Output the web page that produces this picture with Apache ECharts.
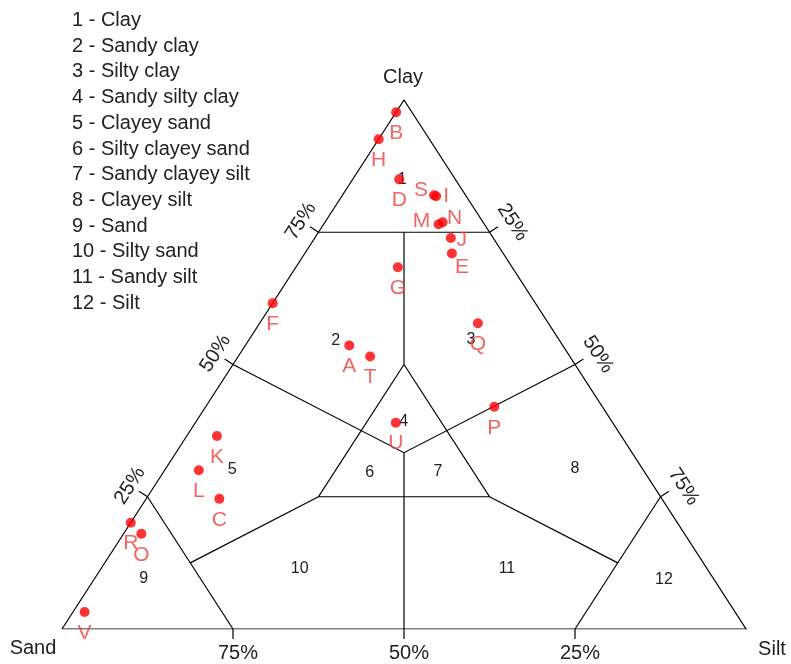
<!DOCTYPE html>
<html><head><meta charset="utf-8">
<script src="https://cdn.jsdelivr.net/npm/echarts@6/dist/echarts.min.js"></script>
<style>html,body{margin:0;padding:0;background:#fff}#c{width:791px;height:664px}</style>
</head><body><div id="c"></div>
<script>
// ---- data ----
const classNames = ['Clay','Sandy clay','Silty clay','Sandy silty clay','Clayey sand','Silty clayey sand',
  'Sandy clayey silt','Clayey silt','Sand','Silty sand','Sandy silt','Silt'];
const vertexNames = ['Sand','Silt','Clay'];
const tickValues = [25,50,75];
const bottomTickLabels = ['75%','50%','25%'];   // silt 25,50,75 along Sand-Silt edge
const leftTickLabels = ['25%','50%','75%'];     // clay 25,50,75 along Sand-Clay edge
const rightTickLabels = ['25%','50%','75%'];    // silt 25,50,75 along Clay-Silt edge
const regionIds = ['1','2','3','4','5','6','7','8','9','10','11','12'];
const regionClay = [84.9,54.6,54.8,39.3,30.2,29.6,29.7,30.4,9.5,11.5,11.5,9.4];
const regionSilt = [7.3,12.7,32.4,30.3,9.8,30.2,40.1,59.8,7.2,29.0,59.3,83.3];
const sampleNames = ['A','B','C','D','E','F','G','H','I','J','K','L','M','N','O','P','Q','R','S','T','U','V'];
const sampleClay = [53.6,97.7,24.6,85.0,71.0,61.6,68.4,92.6,81.8,73.9,36.5,30.0,76.5,76.9,18.0,42.0,57.8,20.1,82.0,51.5,39.0,3.2];
const sampleSilt = [15.2,0.0,10.7,6.8,21.5,0.0,14.9,0.0,13.8,19.9,4.4,5.0,16.8,17.2,2.6,42.2,31.9,0.0,13.4,19.3,29.3,1.7];
const sampleSand = [31.2,2.3,64.7,8.2,7.5,38.4,16.7,7.4,4.4,6.2,59.1,65.0,6.7,5.9,79.4,15.8,10.3,79.9,4.6,29.2,31.7,95.1];
// Shepard classification boundaries, [clay, silt, sand]
const boundaries = [
  [[0,0,100],[0,100,0],[100,0,0],[0,0,100]],
  [[75,0,25],[75,25,0]],
  [[75,12.5,12.5],[50,25,25]],
  [[50,25,25],[25,50,25],[25,25,50],[50,25,25]],
  [[50,0,50],[33.333,33.333,33.333],[50,50,0]],
  [[33.333,33.333,33.333],[0,50,50]],
  [[25,25,50],[12.5,12.5,75]],
  [[25,50,25],[12.5,75,12.5]],
  [[25,0,75],[0,25,75]],
  [[25,75,0],[0,75,25]]
];

// ---- styles ----
const FONT = 'Liberation Sans, Arial, sans-serif';
const TXT = '#222';
const RED_LABEL = '#ec4040';
const labelOffsets = {S:[-13,-5], I:[10,0], M:[-17,-3], N:[12,-4], J:[11,2], E:[10,14]};

function toXY(clay, silt, sand) {
  const t = clay + silt + sand;
  const c = clay / t, s = silt / t;
  return [s + c / 2, c];
}

const chart = echarts.init(document.getElementById('c'));

const tickData = [];
tickValues.forEach((v, i) => {
  tickData.push([0, v, i]);
  tickData.push([1, v, i]);
  tickData.push([2, v, i]);
});

function renderTick(params, api) {
  const e = api.value(0), v = api.value(1), li = api.value(2);
  const pS = api.coord([0, 0]), pT = api.coord([1, 0]), pC = api.coord([0.5, 1]);
  let p, a, b, text, off;
  if (e === 0) { p = api.coord(toXY(0, v, 100 - v)); a = pT; b = pS; text = bottomTickLabels[li]; off = [5, 24]; }
  else if (e === 1) { p = api.coord(toXY(v, 0, 100 - v)); a = pS; b = pC; text = leftTickLabels[li]; off = [-17.5, -11]; }
  else { p = api.coord(toXY(100 - v, v, 0)); a = pC; b = pT; text = rightTickLabels[li]; off = [23, -10]; }
  let dx = b[0] - a[0], dy = b[1] - a[1];
  const L = Math.hypot(dx, dy); dx /= L; dy /= L;
  const n = [dy, -dx];
  const rot = e === 0 ? 0 : -Math.atan2(dy, dx);
  return {
    type: 'group',
    children: [
      { type: 'line', shape: { x1: p[0], y1: p[1], x2: p[0] + n[0] * 10, y2: p[1] + n[1] * 10 },
        style: { stroke: '#000', lineWidth: 1.2 } },
      { type: 'text', x: p[0] + off[0], y: p[1] + off[1], rotation: rot,
        style: { text: text, fill: TXT, font: '20px ' + FONT, align: 'center', verticalAlign: 'middle' } }
    ]
  };
}

const regionData = regionIds.map((id, i) => ({
  name: id,
  value: toXY(regionClay[i], regionSilt[i], 100 - regionClay[i] - regionSilt[i])
}));

function renderRegion(params, api) {
  const p = api.coord([api.value(0), api.value(1)]);
  return { type: 'text', x: p[0], y: p[1],
    style: { text: regionIds[params.dataIndex], fill: TXT, font: '16px ' + FONT, align: 'center', verticalAlign: 'middle' } };
}

const vertexData = [
  { name: vertexNames[0], value: [0, 0], off: [-29, 19] },
  { name: vertexNames[1], value: [1, 0], off: [26, 20] },
  { name: vertexNames[2], value: [0.5, 1], off: [-1, -23] }
];
function renderVertex(params, api) {
  const p = api.coord([api.value(0), api.value(1)]);
  const d = vertexData[params.dataIndex];
  return { type: 'text', x: p[0] + d.off[0], y: p[1] + d.off[1],
    style: { text: d.name, fill: TXT, font: '20px ' + FONT, align: 'center', verticalAlign: 'middle' } };
}

const sampleData = sampleNames.map((nm, i) => ({
  name: nm,
  value: toXY(sampleClay[i], sampleSilt[i], sampleSand[i]),
  label: { offset: labelOffsets[nm] || [0, 21] }
}));

const option = {
  animation: false,
  backgroundColor: '#fff',
  grid: { left: 62, top: 100, width: 684, height: 529 },
  xAxis: { type: 'value', min: 0, max: 1, show: false },
  yAxis: { type: 'value', min: 0, max: 1, show: false },
  graphic: classNames.map((c, i) => ({
    type: 'text', left: 72, top: 10.5 + i * 25.7,
    style: { text: (i + 1) + ' - ' + c, fill: TXT, font: '20px ' + FONT }
  })),
  series: [
    { type: 'lines', coordinateSystem: 'cartesian2d', polyline: true, silent: true, z: 1,
      lineStyle: { color: '#000', width: 1.2, opacity: 1 },
      data: boundaries.map(seg => ({ coords: seg.map(t => toXY(t[0], t[1], t[2])) })) },
    { type: 'custom', renderItem: renderTick, data: tickData, silent: true, z: 2 },
    { type: 'custom', renderItem: renderVertex, data: vertexData.map(d => d.value), silent: true, z: 2 },
    { type: 'custom', renderItem: renderRegion, data: regionData, silent: true, z: 3 },
    { type: 'scatter', data: sampleData, symbol: 'circle', symbolSize: 10, z: 5,
      itemStyle: { color: '#ff0000' },
      label: { show: true, position: 'inside', formatter: '{b}', color: RED_LABEL, fontSize: 21,
        fontFamily: FONT, textBorderWidth: 0, align: 'center', verticalAlign: 'middle' } }
  ]
};
chart.setOption(option);
</script></body></html>
